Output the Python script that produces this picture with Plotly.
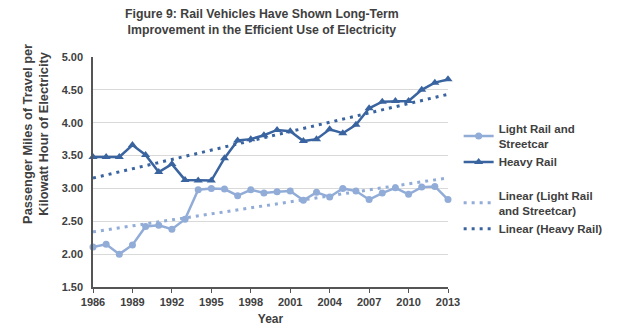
import numpy as np
import plotly.graph_objects as go

years = list(range(1986, 2014))

light_rail = [2.11, 2.15, 2.00, 2.14, 2.42, 2.44, 2.38, 2.53, 2.98, 3.00,
              2.99, 2.89, 2.98, 2.93, 2.95, 2.96, 2.82, 2.94, 2.87, 3.00,
              2.96, 2.83, 2.93, 3.01, 2.91, 3.02, 3.03, 2.83]

heavy_rail = [3.48, 3.48, 3.48, 3.66, 3.51, 3.25, 3.37, 3.13, 3.12, 3.12,
              3.46, 3.73, 3.75, 3.81, 3.89, 3.87, 3.72, 3.75, 3.90, 3.84,
              3.97, 4.22, 4.32, 4.33, 4.33, 4.50, 4.61, 4.66]

x_ticks = list(range(1986, 2014, 3))
y_ticks = [1.5, 2.0, 2.5, 3.0, 3.5, 4.0, 4.5, 5.0]

LIGHT = "#92ACD8"
HEAVY = "#3A64A0"
TEXT = "#404040"
FONT = "Arial, Liberation Sans, sans-serif"
DOTS = "3px,5px"


def linear_fit(xs, ys):
    slope, intercept = np.polyfit(xs, ys, 1)
    return [slope * x + intercept for x in xs]


fig = go.Figure()

fig.add_trace(go.Scatter(
    x=years, y=light_rail, name="<b>Light Rail and<br>Streetcar</b>",
    legendgroup="data", mode="lines+markers", cliponaxis=False,
    line=dict(color=LIGHT, width=2.5),
    marker=dict(symbol="circle", size=7, color=LIGHT),
))
fig.add_trace(go.Scatter(
    x=years, y=heavy_rail, name="<b>Heavy Rail</b>",
    legendgroup="data", mode="lines+markers", cliponaxis=False,
    line=dict(color=HEAVY, width=2.5),
    marker=dict(symbol="triangle-up", size=8, color=HEAVY),
))
fig.add_trace(go.Scatter(
    x=years, y=linear_fit(years, light_rail),
    name="<b>Linear (Light Rail<br>and Streetcar)</b>",
    legendgroup="trend", mode="lines",
    line=dict(color=LIGHT, width=3, dash=DOTS),
))
fig.add_trace(go.Scatter(
    x=years, y=linear_fit(years, heavy_rail),
    name="<b>Linear (Heavy Rail)</b>",
    legendgroup="trend", mode="lines",
    line=dict(color=HEAVY, width=3, dash=DOTS),
))

fig.update_layout(
    width=624, height=331,
    margin=dict(l=93, r=176, t=57, b=44, autoexpand=False),
    paper_bgcolor="white", plot_bgcolor="white",
    font=dict(family=FONT, color=TEXT, size=11),
    legend=dict(
        x=1.03, xanchor="left", y=0.75, yanchor="top",
        font=dict(size=11.5, color=TEXT, family=FONT),
        bgcolor="rgba(0,0,0,0)", tracegroupgap=15,
        itemwidth=30, groupclick="toggleitem",
    ),
    showlegend=True,
    annotations=[
        dict(
            text="<b>Figure 9: Rail Vehicles Have Shown Long-Term<br>"
                 "Improvement in the Efficient Use of Electricity</b>",
            xref="paper", yref="paper", x=0.476, y=1.225,
            xanchor="center", yanchor="top", showarrow=False,
            font=dict(size=12.3, color=TEXT, family=FONT),
        ),
        dict(
            text="<b>Passenger Miles of Travel per<br>Kilowatt Hour of Electricity</b>",
            xref="paper", yref="paper", x=-0.161, y=0.665,
            xanchor="center", yanchor="middle", textangle=-90,
            showarrow=False,
            font=dict(size=12.8, color=TEXT, family=FONT),
        ),
    ],
)

fig.update_xaxes(
    range=[1986, 2013], tickvals=x_ticks,
    ticktext=[f"<b>{t}</b>" for t in x_ticks],
    showgrid=False, zeroline=False, automargin=False,
    showline=True, linecolor="#555555", linewidth=1.5,
    ticks="outside", ticklen=4, tickcolor="#555555",
    tickfont=dict(size=11, color=TEXT),
    title=dict(text="<b>Year</b>", font=dict(size=12, color=TEXT), standoff=8),
)
fig.update_yaxes(
    range=[1.5, 5.0], tickvals=y_ticks,
    ticktext=[f"<b>{v:.2f}</b>" for v in y_ticks],
    showgrid=True, gridcolor="#D9D9D9", gridwidth=1, zeroline=False,
    automargin=False,
    showline=True, linecolor="#555555", linewidth=1.5,
    ticks="", ticklabelstandoff=6, tickfont=dict(size=11, color=TEXT),
)

fig.write_html("out.html")
